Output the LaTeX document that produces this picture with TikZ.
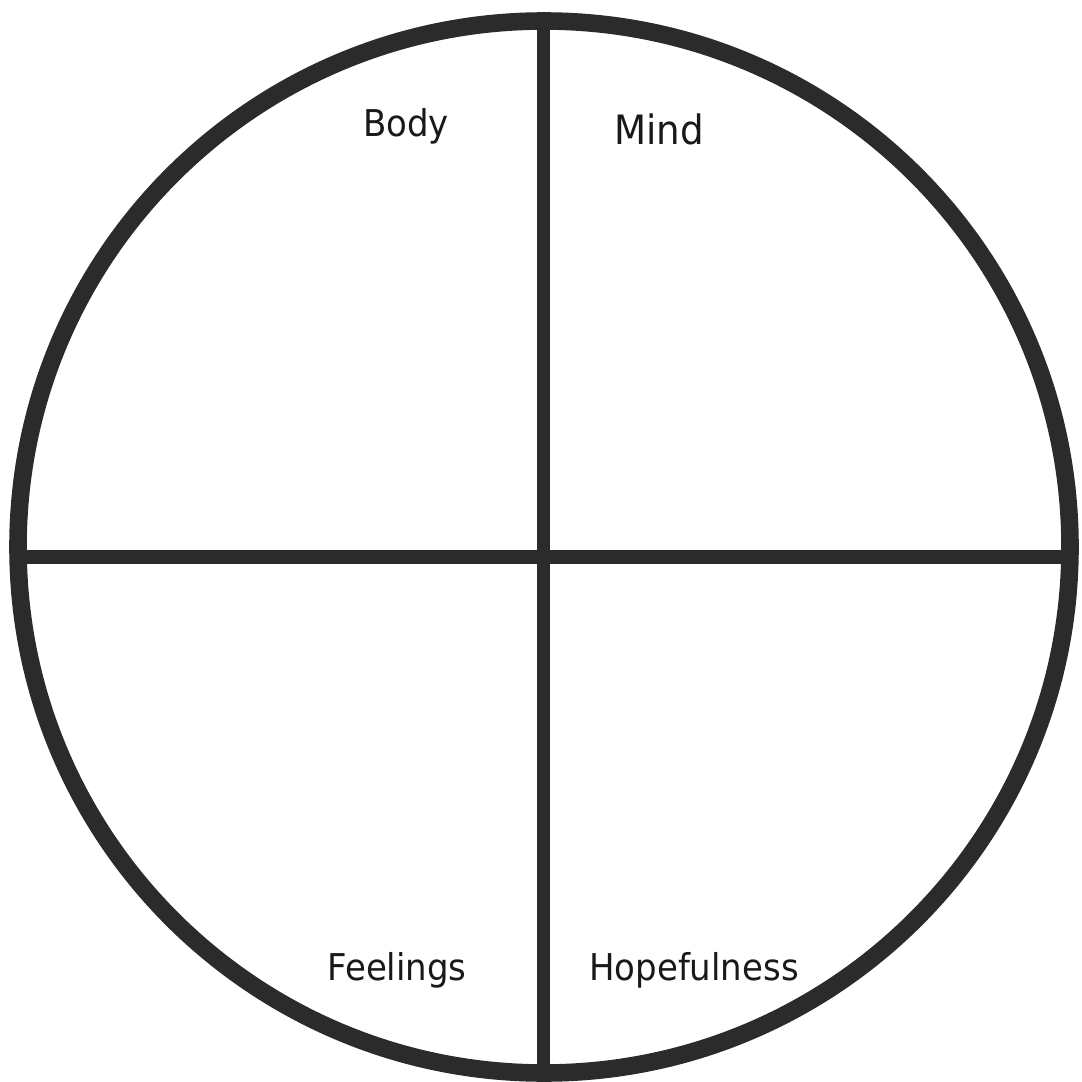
\documentclass[tikz,border=0pt]{standalone}
\usepackage{fontspec}
\setmainfont{DejaVu Sans}
\definecolor{ink}{HTML}{2B2B2B}
\tikzset{
  rim/.style={draw=ink, line width=5pt},
  divider/.style={draw=ink, line width=3.7pt},
  quarter/.style={font=\fontsize{10.5}{12}\selectfont, text=black!90, xscale=0.92}
}

\begin{document}
\begin{tikzpicture}[x=0.01cm, y=-0.01cm]

      \useasboundingbox (0,0) rectangle (1081,1082);

      % end points of the dividers
      \coordinate (top) at (543,21);
      \coordinate (bottom) at (543,1073);
      \coordinate (left) at (18,557);
      \coordinate (right) at (1070,557);

      % dividers
      \draw[divider] (top) -- (bottom);
      \draw[divider] (left) -- (right);

      % outer ring
      \draw[rim] (544,547) circle (526);

      % quarter labels
      \node[quarter] (body) at (406,126) {Body};
      \node[quarter, font=\fontsize{11.5}{13}\selectfont] (mind) at (659,129) {Mind};
      \node[quarter] (feelings) at (397,970) {Feelings};
      \node[quarter] (hope) at (694,970) {Hopefulness};

\end{tikzpicture}
\end{document}
